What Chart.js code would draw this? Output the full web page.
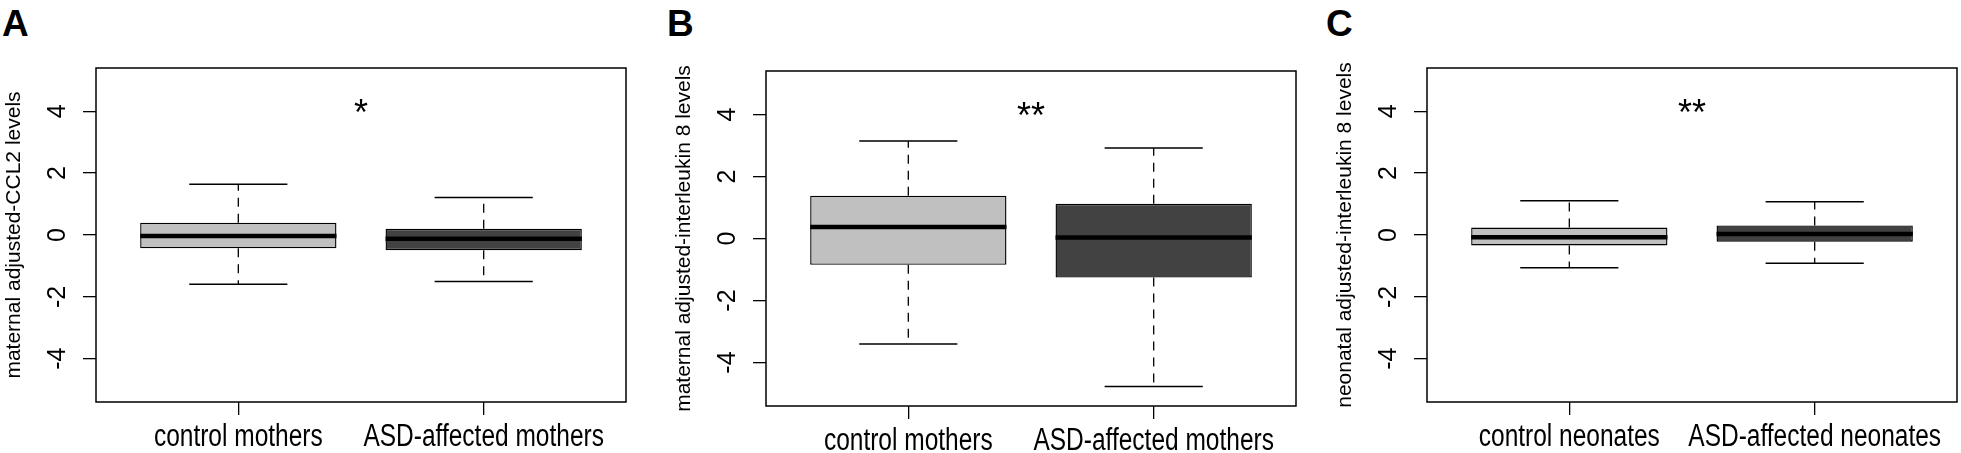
<!DOCTYPE html>
<html>
<head>
<meta charset="utf-8">
<script src="https://cdn.jsdelivr.net/npm/chart.js@4.4.1/dist/chart.umd.min.js"></script>
<style>
  body { margin: 0; background: #fff; width: 1961px; height: 453px; overflow: hidden; position: relative; }
  .panel { position: absolute; top: 0; width: 630px; height: 453px; }
  .letter { position: absolute; top: 5px; font: bold 37px/37px "Liberation Sans", Arial, sans-serif; color: #000; }
</style>
</head>
<body>
<div class="letter" style="left:2px">A</div>
<div class="letter" style="left:667px">B</div>
<div class="letter" style="left:1326px">C</div>
<div class="panel" style="left:0px"><canvas id="chartA" width="630" height="453"></canvas></div>
<div class="panel" style="left:670px"><canvas id="chartB" width="630" height="453"></canvas></div>
<div class="panel" style="left:1331px"><canvas id="chartC" width="630" height="453"></canvas></div>
<script>
// group names on the x axis
const mothers = ["control mothers", "ASD-affected mothers"];
const neonates = ["control neonates", "ASD-affected neonates"];

// box stats: [lower whisker, Q1, median, Q3, upper whisker]
const ccl2Control = [-1.59, -0.43, -0.03, 0.40, 1.645];
const ccl2Asd = [-1.505, -0.49, -0.12, 0.20, 1.215];
const il8MomControl = [-3.40, -0.85, 0.37, 1.38, 3.14];
const il8MomAsd = [-4.77, -1.26, 0.03, 1.12, 2.92];
const il8NeoControl = [-1.06, -0.34, -0.075, 0.24, 1.11];
const il8NeoAsd = [-0.91, -0.215, 0.03, 0.31, 1.075];

// y tick labels
const yTicks = [-4, -2, 0, 2, 4];

// significance marks and the level they sit at
const stars = ["*", "**", "**"];
const starLevel = 4.15;

const regular = "'Liberation Sans', Arial, sans-serif";

Chart.defaults.color = "#000";

// draws whiskers, caps, medians, frame, stars and the (condensed) group labels
const boxParts = {
  id: "boxParts",
  beforeDatasetsDraw(chart, args, opts) {
    const ctx = chart.ctx;
    const xs = chart.scales.x;
    const ys = chart.scales.y;
    ctx.save();
    ctx.strokeStyle = "#000";
    opts.stats.forEach((s, i) => {
      const x = xs.getPixelForValue(i + 1);
      // dashed whiskers
      ctx.lineWidth = 1.3;
      ctx.setLineDash([9, 7]);
      ctx.beginPath();
      ctx.moveTo(x, ys.getPixelForValue(s[3]));
      ctx.lineTo(x, ys.getPixelForValue(s[4]));
      ctx.moveTo(x, ys.getPixelForValue(s[1]));
      ctx.lineTo(x, ys.getPixelForValue(s[0]));
      ctx.stroke();
      // caps
      ctx.setLineDash([]);
      ctx.lineWidth = 1.5;
      ctx.beginPath();
      [s[0], s[4]].forEach((v) => {
        const y = ys.getPixelForValue(v);
        ctx.moveTo(xs.getPixelForValue(i + 0.8), y);
        ctx.lineTo(xs.getPixelForValue(i + 1.2), y);
      });
      ctx.stroke();
    });
    ctx.restore();
  },
  afterDatasetsDraw(chart, args, opts) {
    const ctx = chart.ctx;
    const xs = chart.scales.x;
    const ys = chart.scales.y;
    const area = chart.chartArea;
    ctx.save();
    ctx.strokeStyle = "#000";
    // medians
    ctx.lineWidth = 4.5;
    opts.stats.forEach((s, i) => {
      const y = ys.getPixelForValue(s[2]);
      ctx.beginPath();
      ctx.moveTo(xs.getPixelForValue(i + 0.6), y);
      ctx.lineTo(xs.getPixelForValue(i + 1.4), y);
      ctx.stroke();
    });
    // frame
    ctx.lineWidth = 1.5;
    ctx.strokeRect(area.left, area.top, area.right - area.left, area.bottom - area.top);
    // stars
    ctx.fillStyle = "#000";
    ctx.font = "36px " + regular;
    ctx.textAlign = "center";
    ctx.textBaseline = "middle";
    ctx.fillText(opts.star, xs.getPixelForValue(1.5), ys.getPixelForValue(starLevel) + 8);
    ctx.restore();
  },
  afterDraw(chart) {
    // x tick labels, squeezed horizontally like the original figure
    const ctx = chart.ctx;
    const xs = chart.scales.x;
    ctx.save();
    ctx.fillStyle = "#000";
    ctx.font = "31px " + regular;
    ctx.textAlign = "center";
    ctx.textBaseline = "alphabetic";
    xs.ticks.forEach((t, i) => {
      ctx.save();
      ctx.translate(xs.getPixelForTick(i), xs.top + 44);
      ctx.scale(0.79, 1);
      ctx.fillText(t.label, 0, 0);
      ctx.restore();
    });
    ctx.restore();
  }
};

const panels = [
  { id: "chartA", groups: mothers, stats: [ccl2Control, ccl2Asd], star: stars[0],
    title: "maternal adjusted-CCL2 levels", top: 68, bottom: 402 },
  { id: "chartB", groups: mothers, stats: [il8MomControl, il8MomAsd], star: stars[1],
    title: "maternal adjusted-interleukin 8 levels", top: 71, bottom: 406 },
  { id: "chartC", groups: neonates, stats: [il8NeoControl, il8NeoAsd], star: stars[2],
    title: "neonatal adjusted-interleukin 8 levels", top: 68, bottom: 402 }
];

panels.forEach((p) => {
  new Chart(document.getElementById(p.id), {
    type: "bar",
    data: {
      datasets: [{
        data: p.stats.map((s, i) => ({ x: i + 1, y: [s[1], s[3]] })),
        backgroundColor: ["#c0c0c0", "#424242"],
        borderColor: "#000",
        borderWidth: 1.4,
        borderSkipped: false,
        categoryPercentage: 0.8,
        barPercentage: 1
      }]
    },
    options: {
      responsive: false,
      animation: false,
      devicePixelRatio: 1,
      layout: { padding: { top: p.top, bottom: 0, left: 0, right: 4 } },
      plugins: {
        legend: { display: false },
        tooltip: { enabled: false },
        boxParts: { stats: p.stats, star: p.star }
      },
      scales: {
        x: {
          type: "linear",
          offset: false,
          min: 0.42,
          max: 2.58,
          afterBuildTicks: (axis) => { axis.ticks = p.groups.map((g, i) => ({ value: i + 1 })); },
          afterFit: (axis) => { axis.height = 453 - p.bottom; },
          ticks: {
            display: false,
            callback: (v) => p.groups[v - 1],
            autoSkip: false
          },
          grid: { offset: false, drawOnChartArea: false, drawTicks: true, tickLength: 13, color: "#000", lineWidth: 1.3 },
          border: { display: false }
        },
        y: {
          min: -5.4,
          max: 5.4,
          afterBuildTicks: (axis) => { axis.ticks = yTicks.map((v) => ({ value: v })); },
          afterFit: (axis) => { axis.width = 96; },
          ticks: {
            minRotation: 90,
            maxRotation: 90,
            crossAlign: "center",
            padding: 14,
            font: { size: 25, family: regular }
          },
          grid: { drawOnChartArea: false, drawTicks: true, tickLength: 13, color: "#000", lineWidth: 1.3 },
          border: { display: false },
          title: {
            display: true,
            text: p.title,
            font: { size: 21, family: regular },
            padding: { top: 1.5, bottom: 0 }
          }
        }
      }
    },
    plugins: [boxParts]
  });
});
</script>
</body>
</html>
